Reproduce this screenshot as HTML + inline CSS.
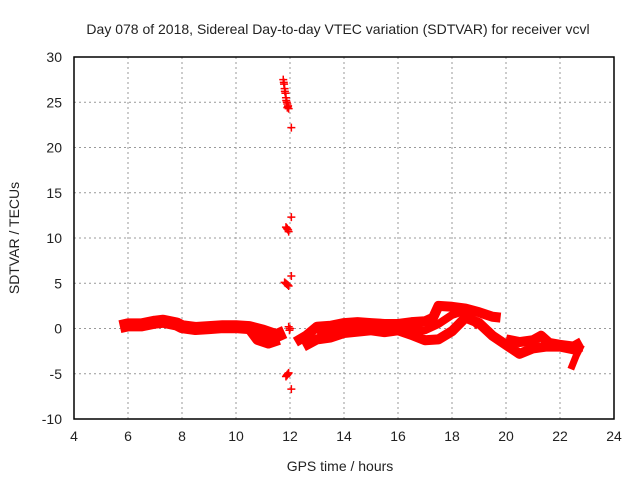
<!DOCTYPE html>
<html><head><meta charset="utf-8"><style>
body{margin:0;background:#fff}
svg text{font-family:"Liberation Sans",sans-serif;font-size:14px;fill:#222}
</style></head><body>
<svg id="c" width="640" height="480"></svg>
<script>
const xTicks=[4,6,8,10,12,14,16,18,20,22,24];
const yTicks=[-10,-5,0,5,10,15,20,25,30];
const bandA=[[5.7,0.2],[6,0.4],[6.5,0.4],[7,0.7],[7.3,0.8],[7.8,0.5],[8,0.2],[8.5,0],[9,0.1],[9.5,0.2],[10,0.2],[10.5,0.1],[11,-0.3],[11.5,-0.8],[11.8,-0.4]];
const bandB=[[10.5,0],[10.8,-1.2],[11.2,-1.6],[11.6,-1.2]];
const bandC=[[12.2,-1.5],[12.6,-0.8],[13,0.2],[13.5,0.3],[14,0.6],[14.5,0.7],[15,0.6],[15.5,0.5],[16,0.5],[16.5,0.7],[17,0.8],[17.3,1.2],[17.5,2.5],[18,2.4],[18.5,2.2],[19,1.8],[19.5,1.3],[19.8,1.2]];
const bandD=[[12.5,-2],[13,-1.2],[13.5,-1],[14,-0.5],[15,-0.2],[15.5,-0.4],[16,-0.2],[16.5,-0.7],[17,-1.3],[17.5,-1.2],[18,-0.3],[18.5,1.2],[19,0.6],[19.5,-0.8],[20,-1.8],[20.5,-2.8],[21,-2.2],[21.5,-2],[22,-2],[22.5,-2.3],[22.8,-2]];
const bandE=[[18.3,2],[18.6,1.5],[19,0.2]];
const bandF=[[20,-1.2],[20.5,-1.5],[21,-1.3],[21.3,-0.8],[21.6,-1.6],[22,-1.8],[22.5,-2],[22.8,-1.5]];
const bandG=[[22.4,-4.5],[22.6,-3],[22.8,-1.8]];
const bandH=[[13,-0.5],[14,-0.2],[15,0.2],[16,0],[17,-0.2],[17.5,0.5],[18,1.5],[18.5,2]];
const outX=[11.75,11.78,11.8,11.83,11.85,11.88,11.9,11.92,11.95,11.77,11.81,11.86,11.9,11.93,12.05,12.05,11.85,11.88,11.9,11.93,11.95,12.05,11.8,11.84,11.88,11.92,11.95,11.85,11.88,11.9,11.93,11.95,12.05,12.0,11.95,11.98];
const outY=[27.5,27,26.5,26,25.5,25,24.8,24.5,24.3,27.2,26.2,25.2,24.4,24.6,22.2,12.3,11.2,11.1,11,10.9,10.7,5.8,5.1,5.0,4.9,4.8,4.7,-5.3,-5.2,-5.1,-5.0,-4.9,-6.7,0,0.2,-0.2];
const L=74,R=614,T=57,B=419;
const sx=v=>L+(v-4)/20*(R-L), sy=v=>B-(v+10)/40*(B-T);
const s=document.getElementById('c'),NS='http://www.w3.org/2000/svg';
function mk(t,a,p){const e=document.createElementNS(NS,t);for(const k in a)e.setAttribute(k,a[k]);(p||s).appendChild(e);return e;}
xTicks.forEach(v=>{
 if(v>4&&v<24){const g=mk('line',{x1:sx(v),x2:sx(v),y1:T,y2:B,stroke:'#999','stroke-dasharray':'2,3'});
 
 }
 const t=mk('text',{x:sx(v),y:B+22,'text-anchor':'middle'});t.textContent=v;
 
 
});
yTicks.forEach(v=>{
 if(v>-10&&v<30){const g=mk('line',{x1:L,x2:R,y1:sy(v),y2:sy(v),stroke:'#999','stroke-dasharray':'2,3'});
 
 }
 const t=mk('text',{x:L-12,y:sy(v)+5,'text-anchor':'end'});t.textContent=v;
 
 
});
[[bandA,13],[bandB,11],[bandC,10],[bandD,10],[bandE,8],[bandF,10],[bandG,7],[bandH,8]].forEach(([b,w])=>{
 const p=mk('polyline',{points:b.map(d=>sx(d[0])+','+sy(d[1])).join(' '),fill:'none',stroke:'#f00','stroke-width':w,'stroke-linejoin':'round','stroke-linecap':'butt'});
 
 
});
outX.forEach((x,i)=>{
 const X=sx(x),Y=sy(outY[i]);
 const p=mk('path',{d:`M${X-4},${Y}h8M${X},${Y-4}v8`,stroke:'#f00','stroke-width':1.5});
 
 
});
const fr=mk('rect',{x:L,y:T,width:R-L,height:B-T,fill:'none',stroke:'#000','stroke-width':1.5});


let t=mk('text',{x:338,y:34,'text-anchor':'middle'});t.textContent='Day 078 of 2018, Sidereal Day-to-day VTEC variation (SDTVAR) for receiver vcvl';


t=mk('text',{x:340,y:471,'text-anchor':'middle'});t.textContent='GPS time / hours';


t=mk('text',{x:19,y:238,'text-anchor':'middle',transform:'rotate(-90 19 238)'});t.textContent='SDTVAR / TECUs';


</script>
</body></html>
